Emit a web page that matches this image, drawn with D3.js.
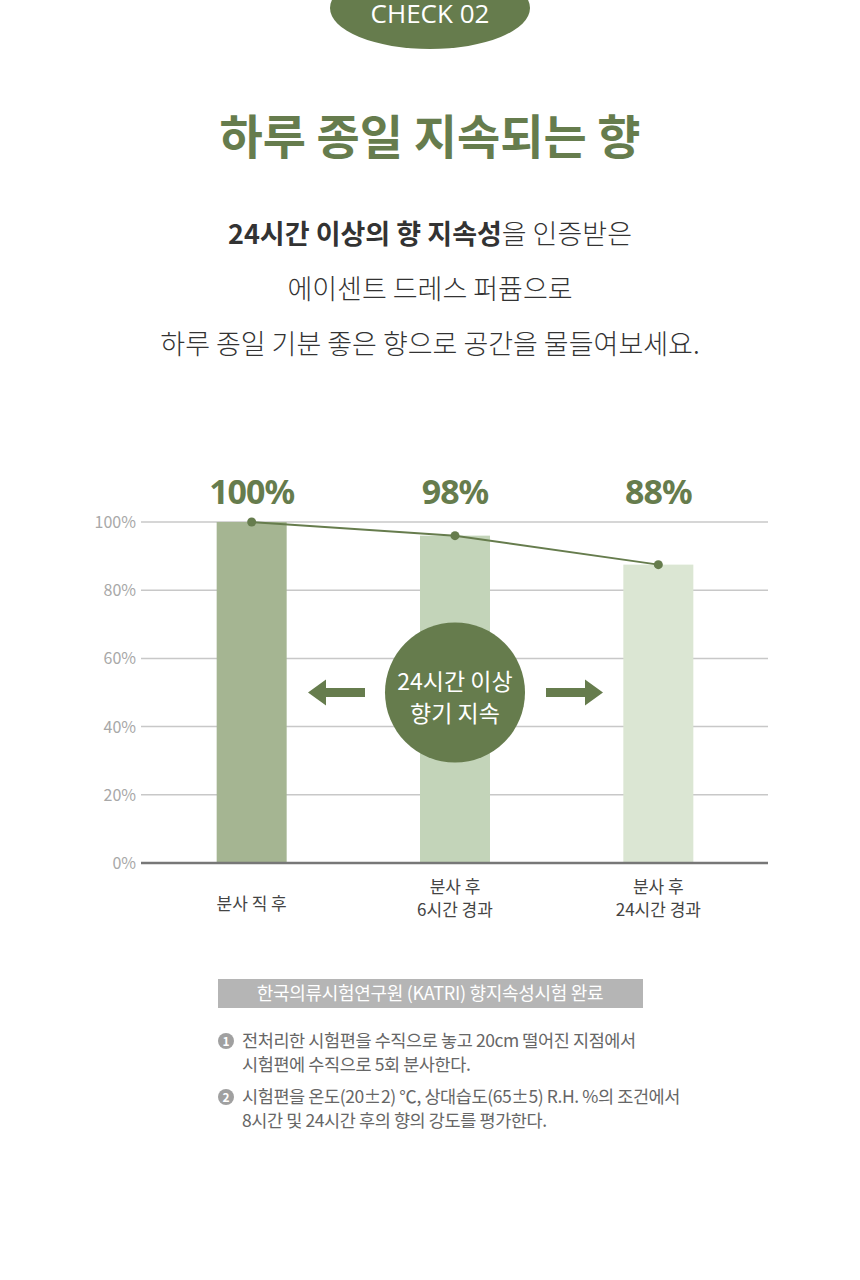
<!DOCTYPE html>
<html>
<head>
<meta charset="utf-8">
<script src="https://cdn.jsdelivr.net/npm/d3@7"></script>
<style>
  body { margin: 0; background: #fff; }
  svg text { font-family: "Noto Sans CJK KR", "Noto Sans", sans-serif; }
</style>
</head>
<body>
<div id="chart"></div>
<script>
// chart data
const categories = ["분사 직 후", "분사 후\n6시간 경과", "분사 후\n24시간 경과"];
const barValues = [100, 96, 87.5];
const valueLabels = ["100%", "98%", "88%"];
const yTicks = [0, 20, 40, 60, 80, 100];
const barColors = ["#a5b592", "#c3d4b9", "#dbe6d3"];

const notes = [
  ["전처리한 시험편을 수직으로 놓고 20cm 떨어진 지점에서", "시험편에 수직으로 5회 분사한다."],
  ["시험편을 온도(20±2) ℃, 상대습도(65±5) R.H. %의 조건에서", "8시간 및 24시간 후의 향의 강도를 평가한다."]
];

(function() {
const green = "#667c4d";
const W = 860, H = 1280;

const svg = d3.select("#chart").append("svg")
  .attr("width", W).attr("height", H);

// header badge
svg.append("ellipse")
  .attr("cx", 430).attr("cy", 8).attr("rx", 100).attr("ry", 41)
  .attr("fill", green);
svg.append("text")
  .attr("x", 430).attr("y", 23)
  .attr("text-anchor", "middle")
  .attr("fill", "#fff").attr("font-size", 26)
  .style("font-family", "'Open Sans', 'Noto Sans', sans-serif")
  .text("CHECK 02");

// title
svg.append("text")
  .attr("x", 430).attr("y", 154)
  .attr("text-anchor", "middle")
  .attr("fill", green).attr("font-size", 47).attr("font-weight", 700)
  .text("하루 종일 지속되는 향");

// subtitle
const sub1 = svg.append("text")
  .attr("x", 430).attr("y", 244)
  .attr("text-anchor", "middle")
  .attr("fill", "#333").attr("font-size", 27);
sub1.append("tspan").attr("font-weight", 700).text("24시간 이상의 향 지속성");
sub1.append("tspan").attr("font-weight", 300).text("을 인증받은");

svg.append("text")
  .attr("x", 430).attr("y", 299)
  .attr("text-anchor", "middle")
  .attr("fill", "#333").attr("font-size", 27).attr("font-weight", 300)
  .text("에이센트 드레스 퍼퓸으로");
svg.append("text")
  .attr("x", 430).attr("y", 354)
  .attr("text-anchor", "middle")
  .attr("fill", "#333").attr("font-size", 27).attr("font-weight", 300)
  .text("하루 종일 기분 좋은 향으로 공간을 물들여보세요.");

// chart area
const gLeft = 141, gRight = 768, gTop = 522, gBottom = 863;

const x = d3.scaleBand()
  .domain(categories)
  .range([150, 760])
  .paddingInner(0.0)
  .align(0.5);

const y = d3.scaleLinear().domain([0, 100]).range([gBottom, gTop]);

// grid
svg.append("g")
  .selectAll("line")
  .data(yTicks.filter(d => d > 0))
  .join("line")
  .attr("x1", gLeft).attr("x2", gRight)
  .attr("y1", d => y(d)).attr("y2", d => y(d))
  .attr("stroke", "#c8c8c8").attr("stroke-width", 1.5);

// y tick labels
svg.append("g")
  .selectAll("text")
  .data(yTicks)
  .join("text")
  .attr("x", 136).attr("y", d => y(d) + 6)
  .attr("text-anchor", "end")
  .attr("fill", "#a8a8a8").attr("font-size", 16)
  .text(d => d + "%");

// bars
const barW = 70;
const cx = d => x(d) + x.bandwidth() / 2;

svg.append("g")
  .selectAll("rect")
  .data(categories)
  .join("rect")
  .attr("x", d => cx(d) - barW / 2)
  .attr("width", barW)
  .attr("y", (d, i) => y(barValues[i]))
  .attr("height", (d, i) => gBottom - y(barValues[i]))
  .attr("fill", (d, i) => barColors[i]);

// baseline
svg.append("line")
  .attr("x1", gLeft).attr("x2", gRight)
  .attr("y1", gBottom).attr("y2", gBottom)
  .attr("stroke", "#777").attr("stroke-width", 2.5);

// trend line
const line = d3.line()
  .x((d, i) => cx(categories[i]))
  .y(d => y(d));

svg.append("path")
  .datum(barValues)
  .attr("d", line)
  .attr("fill", "none")
  .attr("stroke", green).attr("stroke-width", 2);

svg.append("g")
  .selectAll("circle")
  .data(barValues)
  .join("circle")
  .attr("cx", (d, i) => cx(categories[i]))
  .attr("cy", d => y(d))
  .attr("r", 4.5)
  .attr("fill", green);

// value labels
svg.append("g")
  .selectAll("text")
  .data(valueLabels)
  .join("text")
  .attr("x", (d, i) => cx(categories[i]))
  .attr("y", 504)
  .attr("text-anchor", "middle")
  .attr("fill", green).attr("font-size", 34).attr("font-weight", 700)
  .attr("letter-spacing", -1)
  .style("font-family", "'Noto Sans', sans-serif")
  .text(d => d);

// x labels
const xl = svg.append("g")
  .selectAll("text")
  .data(categories)
  .join("text")
  .attr("text-anchor", "middle")
  .attr("fill", "#444").attr("font-size", 17);
xl.each(function(d) {
  const lines = d.split("\n");
  const t = d3.select(this);
  const y0 = lines.length === 1 ? 910 : 893;
  lines.forEach((s, i) => {
    t.append("tspan")
      .attr("x", cx(d))
      .attr("y", y0 + i * 23)
      .text(s);
  });
});

// center badge
const mid = cx(categories[1]);
const midY = y(50);
svg.append("circle")
  .attr("cx", mid).attr("cy", midY).attr("r", 70)
  .attr("fill", green);
svg.append("text")
  .attr("x", mid).attr("y", midY - 3)
  .attr("text-anchor", "middle")
  .attr("fill", "#fff").attr("font-size", 23)
  .text("24시간 이상");
svg.append("text")
  .attr("x", mid).attr("y", midY + 29)
  .attr("text-anchor", "middle")
  .attr("fill", "#fff").attr("font-size", 23)
  .text("향기 지속");

// arrows
function arrow(x0, dir) {
  // x0 = tip position, dir = -1 left, +1 right
  const len = 57, head = 18, hh = 13, sh = 4.5;
  const pts = [
    [x0, midY],
    [x0 - dir * head, midY - hh],
    [x0 - dir * head, midY - sh],
    [x0 - dir * len, midY - sh],
    [x0 - dir * len, midY + sh],
    [x0 - dir * head, midY + sh],
    [x0 - dir * head, midY + hh]
  ];
  svg.append("polygon")
    .attr("fill", green)
    .attr("points", pts.map(p => p.join(",")).join(" "));
}
arrow(308, -1);
arrow(603, 1);

// source box
svg.append("rect")
  .attr("x", 218).attr("y", 979).attr("width", 425).attr("height", 29)
  .attr("fill", "#b5b5b5");
svg.append("text")
  .attr("x", 430).attr("y", 1000)
  .attr("text-anchor", "middle")
  .attr("fill", "#fff").attr("font-size", 18)
  .attr("letter-spacing", -0.3)
  .text("한국의류시험연구원 (KATRI) 향지속성시험 완료");

// notes
notes.forEach((n, i) => {
  const y0 = 1047 + i * 56;
  svg.append("circle")
    .attr("cx", 226).attr("cy", y0 - 6).attr("r", 8)
    .attr("fill", "#a0a0a0");
  svg.append("text")
    .attr("x", 226).attr("y", y0 - 1)
    .attr("text-anchor", "middle")
    .attr("fill", "#fff").attr("font-size", 12).attr("font-weight", 700)
    .text(i + 1);
  n.forEach((s, j) => {
    svg.append("text")
      .attr("x", 242).attr("y", y0 + j * 24)
      .attr("fill", "#666").attr("font-size", 17.5)
      .attr("letter-spacing", -0.4)
      .text(s);
  });
});
})();
</script>
</body>
</html>
